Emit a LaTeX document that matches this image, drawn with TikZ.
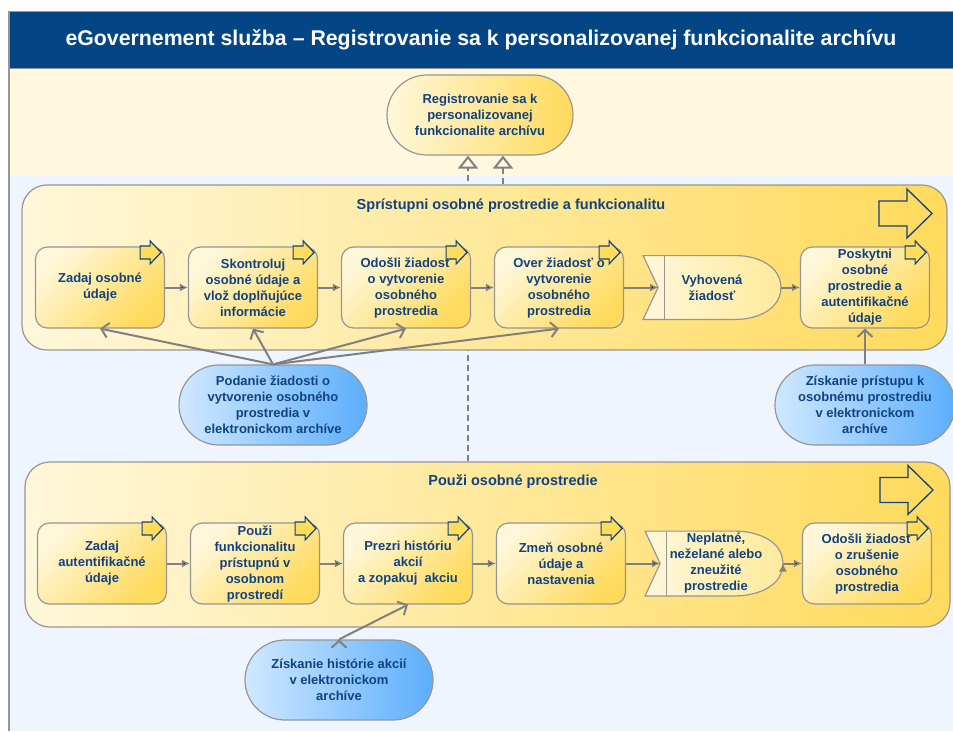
\documentclass[tikz,border=0pt]{standalone}
\usepackage{fontspec}
\setmainfont{Liberation Sans}
\usetikzlibrary{positioning,shapes.misc,arrows.meta}

\definecolor{barblue}{RGB}{4,70,133}
\definecolor{navytext}{RGB}{18,66,128}
\definecolor{creamband}{RGB}{255,247,222}
\definecolor{blueband}{RGB}{238,245,255}
\definecolor{linegray}{RGB}{128,128,128}
\definecolor{boxgray}{RGB}{150,150,150}
\definecolor{paleyellow}{RGB}{255,247,218}
\definecolor{deepyellow}{RGB}{255,218,92}
\definecolor{softyellow}{RGB}{255,234,155}
\definecolor{flaggold}{RGB}{255,221,90}
\definecolor{paleblue}{RGB}{208,232,255}
\definecolor{deepblue}{RGB}{92,174,252}

\newcommand{\tskfont}{\fontsize{13}{16}\selectfont\bfseries}

\begin{document}
\begin{tikzpicture}[x=1pt, y=-1pt, node distance=153pt, thick,
    task node/.style={rectangle, rounded corners=12pt, draw=boxgray, line width=1.2pt,
      top color=paleyellow, bottom color=deepyellow, shading angle=45,
      minimum width=129pt, minimum height=81pt, align=center, inner sep=1pt,
      font=\tskfont, text=navytext},
    event node/.style={minimum width=137pt, minimum height=63pt, inner sep=0pt,
      align=center, font=\tskfont, text=navytext},
    group node/.style={rectangle, rounded corners=25pt, draw=boxgray, line width=1.2pt,
      left color=paleyellow, right color=deepyellow, minimum width=925pt, minimum height=165pt},
    oval node/.style={rounded rectangle, draw=boxgray, line width=1.2pt,
      left color=paleblue, right color=deepblue, minimum width=188pt, minimum height=80pt,
      inner sep=0pt, align=center, font=\tskfont, text=navytext},
    goal node/.style={rounded rectangle, draw=boxgray, line width=1.2pt,
      left color=paleyellow, right color=deepyellow, minimum width=186pt, minimum height=80pt,
      inner sep=0pt, align=center, font=\tskfont, text=navytext},
    group title/.style={font=\fontsize{14.5}{17}\selectfont\bfseries, text=navytext},
    flow/.style={draw=linegray, line width=2pt, -{Latex[length=8pt,width=8pt]}},
    trigger/.style={draw=linegray, line width=2pt, -{Straight Barb[length=7pt,width=15pt]}},
    realize/.style={draw=linegray, line width=2pt, dash pattern=on 6pt off 4pt,
      -{Triangle[open,length=13pt,width=20pt]}},
    flag/.pic={\filldraw[draw=navytext, fill=flaggold, line width=1.2pt]
      (0,0) -- (-11,-11.5) -- (-11,-6.5) -- (-21,-6.5) -- (-21,6.5) -- (-11,6.5) -- (-11,11.5) -- cycle;},
    bigflag/.pic={\draw[navytext, line width=1.3pt]
      (0,0) -- (-25,-24.5) -- (-25,-12.5) -- (-53,-12.5) -- (-53,12.5) -- (-25,12.5) -- (-25,24.5) -- cycle;}]

  \useasboundingbox (0,0) rectangle (953,731);

  % background bands
  \fill[creamband] (9,68) rectangle (953,176);
  \fill[blueband] (9,176) rectangle (953,731);
  \draw[boxgray, line width=1.5pt] (9,11) -- (9,731);

  \node[fill=barblue, draw=boxgray, line width=1pt, minimum width=944pt, minimum height=57pt,
        text=white, font=\fontsize{21.3}{24}\selectfont\bfseries] (banner) at (481,39.5)
        {eGovernement služba – Registrovanie sa k personalizovanej funkcionalite archívu};

  \node[goal node] (goal) at (480,115) {Registrovanie sa k\\personalizovanej\\funkcionalite archívu};

  % second group first, its link runs behind the first group
  \node[group node] (grp2) at (487.5,544.5) {};
  \draw[realize] ([xshift=-12pt]goal.south |- grp2.north) -- ([xshift=-12pt]goal.south);
  \node[group node] (grp1) at (484.5,267.5) {};
  \draw[realize] ([xshift=23pt]goal.south |- grp1.north) -- ([xshift=23pt]goal.south);

  \node[group title] (title1) at (511,206) {Sprístupni osobné prostredie a funkcionalitu};
  \node[group title] (title2) at (513,482) {Použi osobné prostredie};
  \pic at (932,213.5) {bigflag};
  \pic at (933,490) {bigflag};

  % row 1
  \node[task node] (1) at (100,287.5) {Zadaj osobné\\údaje};
  \node[task node] (2) [right of=1] {Skontroluj\\osobné údaje a\\vlož doplňujúce\\informácie};
  \node[task node] (3) [right of=2] {Odošli žiadosť\\o vytvorenie\\osobného\\prostredia};
  \node[task node] (4) [right of=3] {Over žiadosť o\\vytvorenie\\osobného\\prostredia};
  \node[event node] (5) [right of=4] {Vyhovená\\žiadosť};
  \node[task node] (6) [right of=5] {Poskytni\\osobné\\prostredie a\\autentifikačné\\údaje};

  % row 2
  \node[task node] (7) at (102,563.5) {Zadaj\\autentifikačné\\údaje};
  \node[task node] (8) [right of=7] {Použi\\funkcionalitu\\prístupnú v\\osobnom\\prostredí};
  \node[task node] (9) [right of=8] {Prezri históriu\\akcií\\a zopakuj~ akciu};
  \node[task node] (10) [right of=9] {Zmeň osobné\\údaje a\\nastavenia};
  \node[event node, minimum height=64pt] (11) [right of=10] {};
  \node[task node] (12) [right of=11] {Odošli žiadosť\\o zrušenie\\osobného\\prostredia};

  % event shapes
  \shadedraw[draw=boxgray, line width=1.2pt, left color=paleyellow, right color=softyellow]
    (5.north west) -- ([xshift=-45pt]5.north east) to[out=0,in=90] (5.east)
    to[out=-90,in=0] ([xshift=-45pt]5.south east) -- (5.south west)
    -- ([xshift=15pt]5.west) -- cycle;
  \draw[boxgray, line width=1.2pt] ([xshift=21pt]5.north west) -- ([xshift=21pt]5.south west);
  \node[event node] at (5) {Vyhovená\\žiadosť};
  \shadedraw[draw=boxgray, line width=1.2pt, left color=paleyellow, right color=softyellow]
    (11.north west) -- ([xshift=-48pt]11.north east) to[out=0,in=90] (11.east)
    to[out=-90,in=0] ([xshift=-48pt]11.south east) -- (11.south west)
    -- ([xshift=15pt]11.west) -- cycle;
  \draw[boxgray, line width=1.2pt] ([xshift=21pt]11.north west) -- ([xshift=21pt]11.south west);
  \node[event node] at ([xshift=2pt]11) {Neplatné,\\neželané alebo\\zneužité\\prostredie};

  % step flags
  \pic at ([xshift=-4pt,yshift=-6pt]1.north east) {flag};
  \pic at ([xshift=-4pt,yshift=-6pt]2.north east) {flag};
  \pic at ([xshift=-4pt,yshift=-6pt]3.north east) {flag};
  \pic at ([xshift=-4pt,yshift=-6pt]4.north east) {flag};
  \pic at ([xshift=-4pt,yshift=-6pt]6.north east) {flag};
  \pic at ([xshift=-4pt,yshift=-6pt]7.north east) {flag};
  \pic at ([xshift=-4pt,yshift=-6pt]8.north east) {flag};
  \pic at ([xshift=-4pt,yshift=-6pt]9.north east) {flag};
  \pic at ([xshift=-4pt,yshift=-6pt]10.north east) {flag};
  \pic at ([xshift=-4pt,yshift=-6pt]12.north east) {flag};

  % triggering events
  \node[oval node] (e1) at (273,405) {Podanie žiadosti o\\vytvorenie osobného\\prostredia v\\elektronickom archíve};
  \node[oval node, minimum width=180pt] (e2) at (865,405) {Získanie prístupu k\\osobnému prostrediu\\v elektronickom\\archíve};
  \node[oval node] (e3) at (339,680) {Získanie histórie akcií\\v elektronickom\\archíve};

  \path[flow]
    (1) edge (2)
    (2) edge (3)
    (3) edge (4)
    (4) edge ([xshift=15pt]5.west)
    (5.east) edge (6)
    (7) edge (8)
    (8) edge (9)
    (9) edge (10)
    (10) edge ([xshift=15pt]11.west)
    (11.east) edge (12);

  \path[trigger]
    (e1.north) edge (1.south)
               edge (2.south)
               edge (3.south)
               edge (4.south)
    (e2.north) edge (6.south)
    (e3.north) edge (9.south);

\end{tikzpicture}
\end{document}
